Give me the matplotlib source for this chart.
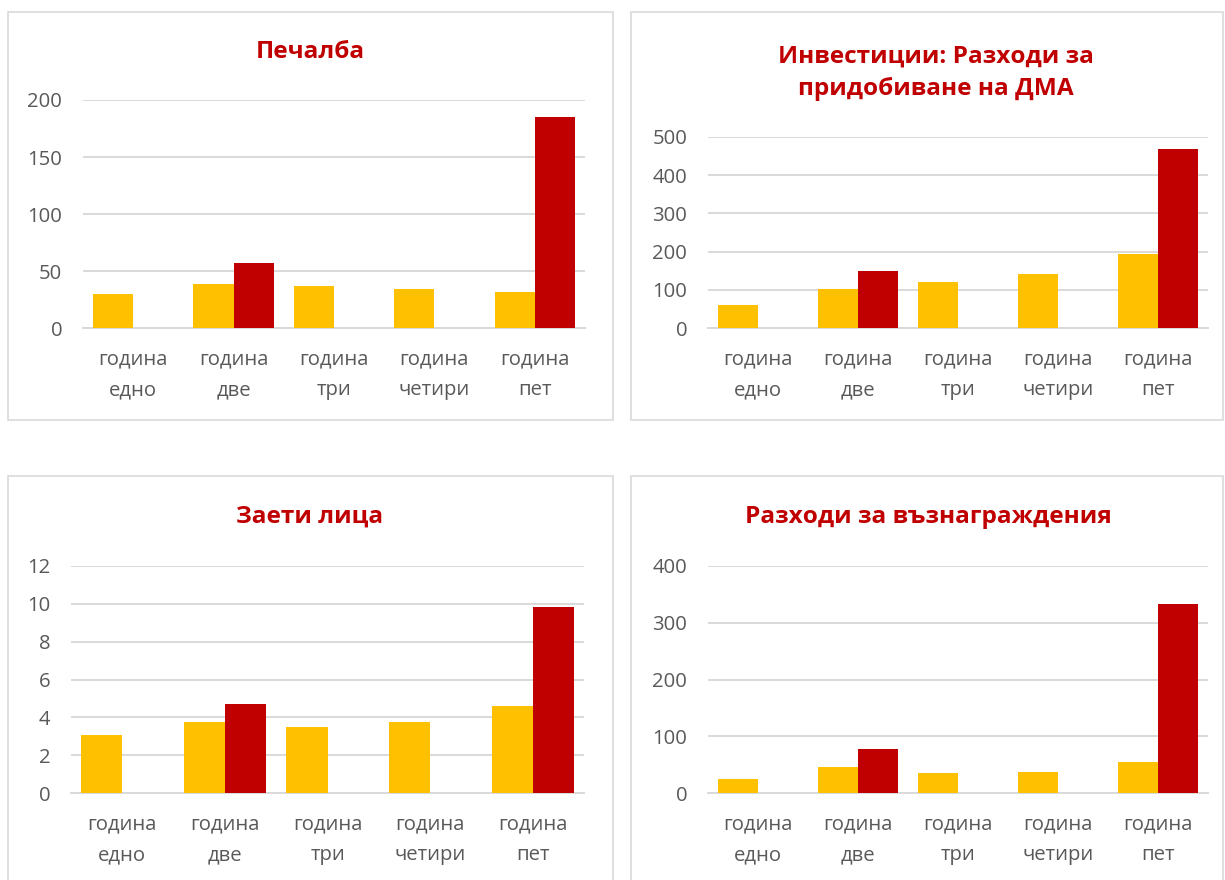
import matplotlib
matplotlib.use("Agg")
import matplotlib.pyplot as plt
from matplotlib.patches import Rectangle
import numpy as np

plt.rcParams['font.family'] = ['Open Sans', 'DejaVu Sans']

categories = ["година\nедно", "година\nдве", "година\nтри", "година\nчетири", "година\nпет"]

profit_yellow = [30, 39, 37, 34, 32]
profit_red = [0, 57, 0, 0, 185]

invest_yellow = [60, 102, 122, 142, 193]
invest_red = [0, 150, 0, 0, 468]

employed_yellow = [3.06, 3.78, 3.51, 3.74, 4.59]
employed_red = [0, 4.69, 0, 0, 9.8]

wages_yellow = [25, 46, 35, 37.5, 55]
wages_red = [0, 77, 0, 0, 333]

titles = ["Печалба", "Инвестиции: Разходи за\nпридобиване на ДМА", "Заети лица", "Разходи за възнаграждения"]
yticks_list = [[0, 50, 100, 150, 200], [0, 100, 200, 300, 400, 500], [0, 2, 4, 6, 8, 10, 12], [0, 100, 200, 300, 400]]

YELLOW = "#FFC000"
RED = "#C00000"
GRID = "#D9D9D9"
TXT = "#595959"

W, H = 1225, 880
fig = plt.figure(figsize=(W / 100, H / 100), dpi=100)
fig.patch.set_facecolor("white")


def rect(x0, x1, ytop, ybot):
    return [x0 / W, 1 - ybot / H, (x1 - x0) / W, (ybot - ytop) / H]


# panel borders (pixel coords)
panels = [(8, 613, 12, 420), (631, 1223, 12, 420), (8, 613, 476, 885), (631, 1223, 476, 885)]
for (x0, x1, y0, y1) in panels:
    fig.patches.append(Rectangle((x0 / W, 1 - y1 / H), (x1 - x0) / W, (y1 - y0) / H,
                                 transform=fig.transFigure, fill=False, edgecolor=GRID, lw=1.2))

axes_px = [(83, 585, 100, 328.3), (708, 1208, 136.7, 328.3), (71, 584, 565.7, 793.3), (708, 1208, 565.7, 793.3)]
title_pos = [(310, 52), (936, 72.5), (310, 517), (928, 517)]
data = [(profit_yellow, profit_red), (invest_yellow, invest_red),
        (employed_yellow, employed_red), (wages_yellow, wages_red)]

for i in range(4):
    ax = fig.add_axes(rect(*axes_px[i]))
    yv, rv = data[i]
    x = np.arange(len(categories))
    ax.bar(x - 0.2, yv, 0.4, color=YELLOW, zorder=3)
    ax.bar(x + 0.2, rv, 0.4, color=RED, zorder=3)
    ax.set_xlim(-0.5, 4.5)
    yt = yticks_list[i]
    ax.set_ylim(0, yt[-1])
    ax.set_yticks(yt)
    ax.set_yticklabels([str(t) for t in yt])
    ax.set_xticks(x)
    ax.set_xticklabels(categories, linespacing=1.68)
    ax.yaxis.grid(True, color=GRID, lw=1.4)
    ax.set_axisbelow(True)
    for s in ["left", "right", "top"]:
        ax.spines[s].set_visible(False)
    ax.spines["bottom"].set_color(GRID)
    ax.spines["bottom"].set_linewidth(1.4)
    ax.tick_params(axis="y", length=0, pad=15, labelsize=14.6, labelcolor=TXT)
    ax.tick_params(axis="x", length=0, pad=15.5, labelsize=14.6, labelcolor=TXT)
    ax.set_facecolor("none")
    tx, ty = title_pos[i]
    fig.text(tx / W, 1 - ty / H, titles[i], ha="center", va="center", fontsize=17.6,
             fontweight="bold", color=RED, linespacing=1.45)

fig.savefig("out.png", dpi=100, facecolor="white")
